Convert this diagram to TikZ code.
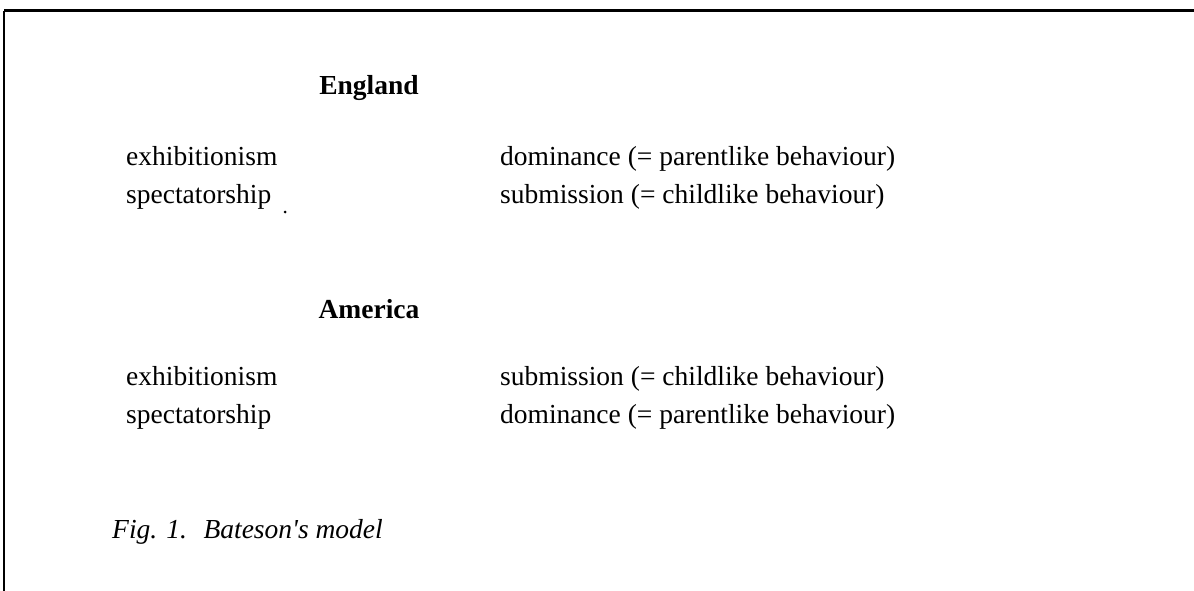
\documentclass[tikz,border=0pt]{standalone}
\usepackage{fontspec}
\setmainfont{Liberation Serif}[Ligatures=TeXOff]
\begin{document}
\begin{tikzpicture}[x=1pt,y=-1pt,
  txt/.style={anchor=base west, inner sep=0pt, font=\fontsize{27.5}{33}\selectfont},
  head/.style={anchor=base, inner sep=0pt, font=\fontsize{27.5}{33}\selectfont\bfseries},
  figcaption/.style={anchor=base west, inner sep=0pt, font=\fontsize{27.5}{33}\selectfont\itshape}]
\useasboundingbox (0,0) rectangle (1194,591);
\draw[line width=3pt] (4,11) -- (1194,11);
\draw[line width=2pt] (4,11) -- (4,591);
\node[head] (eng) at (369,95) {England};
\node[txt] (e1) at (126,165) {exhibitionism};
\node[txt] (s1) at (126,203) {spectatorship};
\node[txt] (d1) at (500,165) {dominance (= parentlike behaviour)};
\node[txt] (b1) at (500,203) {submission (= childlike behaviour)};
\node[head] (ame) at (369,318) {America};
\node[txt] (e2) at (126,385) {exhibitionism};
\node[txt] (s2) at (126,423) {spectatorship};
\node[txt] (b2) at (500,385) {submission (= childlike behaviour)};
\node[txt] (d2) at (500,423) {dominance (= parentlike behaviour)};
\node[figcaption] (fig) at (112,538) {Fig. 1.\hspace{0.6em}Bateson's model};
\fill (285,212) circle (1.5pt);
\end{tikzpicture}
\end{document}
